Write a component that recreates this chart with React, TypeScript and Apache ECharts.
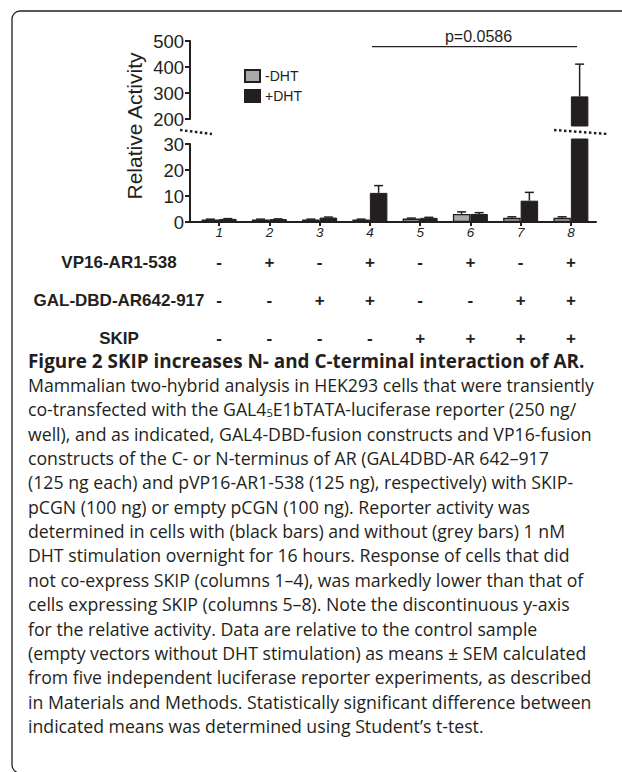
import React, { useEffect, useRef } from "react";
import * as echarts from "echarts";

const categories = ["1", "2", "3", "4", "5", "6", "7", "8"];
const minusDHT = [1.0, 1.0, 1.0, 1.0, 1.3, 3.1, 1.6, 1.6];
const minusDHTErr = [0.1, 0.1, 0.1, 0.1, 0.2, 0.8, 0.4, 0.4];
const plusDHT = [1.2, 1.1, 1.7, 11.2, 1.6, 3.1, 8.2, 287];
const plusDHTErr = [0.1, 0.1, 0.2, 2.8, 0.2, 0.5, 3.2, 124];
const upperRange = [200, 500];
const lowerRange = [0, 30];
const upperInterval = 100;
const lowerInterval = 10;
const vp16Row = ["-", "+", "-", "+", "-", "+", "-", "+"];
const galRow = ["-", "-", "+", "+", "-", "-", "+", "+"];
const skipRow = ["-", "-", "-", "-", "+", "+", "+", "+"];
const rowLabels = ["VP16-AR1-538", "GAL-DBD-AR642-917", "SKIP"];
const seriesNames = ["-DHT", "+DHT"];
const pValueText = "p=0.0586";
const yAxisTitle = "Relative Activity";
const captionTitle = "Figure 2 SKIP increases N- and C-terminal interaction of AR.";
const captionLines = [
  "Mammalian two-hybrid analysis in HEK293 cells that were transiently",
  "co-transfected with the GAL4{sub|5}E1bTATA-luciferase reporter (250 ng/",
  "well), and as indicated, GAL4-DBD-fusion constructs and VP16-fusion",
  "constructs of the C- or N-terminus of AR (GAL4DBD-AR 642–917",
  "(125 ng each) and pVP16-AR1-538 (125 ng), respectively) with SKIP-",
  "pCGN (100 ng) or empty pCGN (100 ng). Reporter activity was",
  "determined in cells with (black bars) and without (grey bars) 1 nM",
  "DHT stimulation overnight for 16 hours. Response of cells that did",
  "not co-express SKIP (columns 1–4), was markedly lower than that of",
  "cells expressing SKIP (columns 5–8). Note the discontinuous y-axis",
  "for the relative activity. Data are relative to the control sample",
  "(empty vectors without DHT stimulation) as means ± SEM calculated",
  "from five independent luciferase reporter experiments, as described",
  "in Materials and Methods. Statistically significant difference between",
  "indicated means was determined using Student’s t-test.",
];

const INK = "#231f20";
const GREY = "#a7a9ac";
const SANS = "Liberation Sans, Arial, Helvetica, sans-serif";
const CAPTION_FONT = "Open Sans, sans-serif";

// layout (pixels)
const BAR_LEFT = 194;
const BAR_WIDTH_TOTAL = 402;
const AXIS_LEFT = 190;
const AXIS_WIDTH = 406;
const UP_TOP = 41;
const UP_H = 78; // 500 -> 200
const LOW_TOP = 144;
const LOW_H = 78; // 30 -> 0
const UP_BAR_BOTTOM = 126;
const LOW_BAR_TOP = 139;
const BAR_W = 17.5;

function errorRenderer(offset: number) {
  return (params: any, api: any) => {
    const i = api.value(0);
    const v = api.value(1);
    const e = api.value(2);
    const base = api.coord([i, v]);
    const top = api.coord([i, v + e]);
    const x = base[0] + offset;
    const st = { stroke: INK, lineWidth: 1.5 };
    return {
      type: "group",
      children: [
        { type: "line", shape: { x1: x, y1: base[1], x2: x, y2: top[1] }, style: st },
        { type: "line", shape: { x1: x - 4.5, y1: top[1], x2: x + 4.5, y2: top[1] }, style: st },
      ],
    };
  };
}

export default function App() {
  const ref = useRef<HTMLDivElement>(null);
  useEffect(() => {
    if (!ref.current) return;
    const chart = echarts.init(ref.current, undefined, { renderer: "svg" });

    const upScale = UP_H / (upperRange[1] - upperRange[0]);
    const lowScale = LOW_H / (lowerRange[1] - lowerRange[0]);
    const upBarMin = upperRange[0] - (UP_BAR_BOTTOM - (UP_TOP + UP_H)) / upScale;
    const lowBarMax = lowerRange[1] + (LOW_TOP - LOW_BAR_TOP) / lowScale;

    const hiddenCat = (gridIndex: number) => ({
      type: "category",
      gridIndex,
      data: categories,
      show: false,
    });

    const rowAxis = (data: string[], offset: number) => ({
      type: "category",
      gridIndex: 1,
      data,
      position: "bottom",
      offset,
      axisLine: { show: false },
      axisTick: { show: false },
      axisLabel: {
        margin: 0,
        fontFamily: SANS,
        fontWeight: "bold",
        fontSize: 17,
        color: INK,
        interval: 0,
      },
    });

    const visibleY = (gridIndex: number, range: number[], interval: number) => ({
      type: "value",
      gridIndex,
      min: range[0],
      max: range[1],
      interval,
      axisLine: { show: true, lineStyle: { color: INK, width: 2 } },
      axisTick: { show: true, length: 5, lineStyle: { color: INK, width: 2 } },
      axisLabel: { fontFamily: SANS, fontSize: 18.5, color: INK, margin: 6 },
      splitLine: { show: false },
    });

    const barStyleGrey = { color: GREY, borderColor: INK, borderWidth: 1.3 };
    const barStyleBlack = { color: INK, borderColor: INK, borderWidth: 1 };

    const barSeries = (name: string, data: number[], idx: number, style: any) => ({
      type: "bar",
      name,
      xAxisIndex: idx,
      yAxisIndex: idx,
      data,
      barWidth: BAR_W,
      barGap: "0%",
      clip: true,
      itemStyle: style,
      emphasis: { disabled: true },
    });

    const errSeries = (vals: number[], errs: number[], idx: number, offset: number) => ({
      type: "custom",
      xAxisIndex: idx,
      yAxisIndex: idx,
      clip: true,
      data: categories.map((_, i) => [i, vals[i], errs[i]]),
      encode: { x: 0, y: 1 },
      renderItem: errorRenderer(offset),
      z: 3,
    });

    const captionGraphics: any[] = captionLines.map((t, i) => ({
      type: "text",
      x: 28,
      y: 385 + i * 24.35,
      style: {
        text: t,
        fontFamily: CAPTION_FONT,
        fontSize: 17.7,
        fill: INK,
        align: "left",
        verticalAlign: "middle",
        rich: {
          sub: { fontFamily: CAPTION_FONT, fontSize: 11, fill: INK, verticalAlign: "bottom", padding: [7, 0, 0, 0] },
        },
      },
    }));

    const option: any = {
      animation: false,
      backgroundColor: "#ffffff",
      grid: [
        { left: BAR_LEFT, width: BAR_WIDTH_TOTAL, top: UP_TOP, height: UP_BAR_BOTTOM - UP_TOP },
        { left: BAR_LEFT, width: BAR_WIDTH_TOTAL, top: LOW_BAR_TOP, height: LOW_TOP + LOW_H - LOW_BAR_TOP },
        { left: AXIS_LEFT, width: AXIS_WIDTH, top: UP_TOP, height: UP_H },
        { left: AXIS_LEFT, width: AXIS_WIDTH, top: LOW_TOP, height: LOW_H },
      ],
      xAxis: [
        hiddenCat(0),
        {
          type: "category",
          gridIndex: 1,
          data: categories,
          axisLine: { show: false },
          axisTick: { show: true, alignWithLabel: true, length: 4, lineStyle: { color: INK, width: 2 } },
          axisLabel: { fontFamily: SANS, fontStyle: "italic", fontSize: 13.5, color: INK, margin: 3 },
        },
        { type: "value", gridIndex: 2, show: false, min: 0, max: 1 },
        {
          type: "value",
          gridIndex: 3,
          min: 0,
          max: 1,
          axisLine: { show: true, onZero: false, lineStyle: { color: INK, width: 2 } },
          axisTick: { show: false },
          axisLabel: { show: false },
          splitLine: { show: false },
        },
        rowAxis(vp16Row, 31.5),
        rowAxis(galRow, 69.5),
        rowAxis(skipRow, 107.5),
      ],
      yAxis: [
        { type: "value", gridIndex: 0, min: upBarMin, max: upperRange[1], show: false },
        { type: "value", gridIndex: 1, min: lowerRange[0], max: lowBarMax, show: false },
        visibleY(2, upperRange, upperInterval),
        visibleY(3, lowerRange, lowerInterval),
      ],
      legend: {
        data: seriesNames,
        orient: "vertical",
        left: 239,
        top: 64,
        icon: "rect",
        itemWidth: 15,
        itemHeight: 12,
        itemGap: 6,
        textStyle: { fontFamily: SANS, fontSize: 14, color: INK, lineHeight: 14 },
      },
      series: [
        barSeries(seriesNames[0], minusDHT, 0, barStyleGrey),
        barSeries(seriesNames[1], plusDHT, 0, barStyleBlack),
        barSeries(seriesNames[0], minusDHT, 1, barStyleGrey),
        barSeries(seriesNames[1], plusDHT, 1, barStyleBlack),
        errSeries(minusDHT, minusDHTErr, 0, -BAR_W / 2),
        errSeries(plusDHT, plusDHTErr, 0, BAR_W / 2),
        errSeries(minusDHT, minusDHTErr, 1, -BAR_W / 2),
        errSeries(plusDHT, plusDHTErr, 1, BAR_W / 2),
      ],
      graphic: [
        {
          type: "rect",
          shape: { x: 12, y: 11, width: 700, height: 762, r: 8 },
          style: { fill: "none", stroke: INK, lineWidth: 1.3 },
          silent: true,
        },
        {
          type: "text",
          x: 134.7,
          y: 126,
          rotation: Math.PI / 2,
          style: {
            text: yAxisTitle,
            fontFamily: SANS,
            fontSize: 21,
            fill: INK,
            align: "center",
            verticalAlign: "middle",
          },
        },
        {
          type: "line",
          shape: { x1: 180, y1: 130, x2: 212, y2: 134 },
          style: { stroke: INK, lineWidth: 2.5, lineDash: [2.5, 2.5] },
        },
        {
          type: "line",
          shape: { x1: 554, y1: 130, x2: 608, y2: 134 },
          style: { stroke: INK, lineWidth: 2.5, lineDash: [2.5, 2.5] },
        },
        {
          type: "line",
          shape: { x1: 372, y1: 46.7, x2: 577, y2: 46.7 },
          style: { stroke: INK, lineWidth: 1.2 },
        },
        {
          type: "text",
          x: 478.5,
          y: 36,
          style: {
            text: pValueText,
            fontFamily: SANS,
            fontSize: 16,
            fill: INK,
            align: "center",
            verticalAlign: "middle",
          },
        },
        ...rowLabels.map((t, i) => ({
          type: "text",
          x: 119,
          y: 262 + i * 38,
          style: {
            text: t,
            fontFamily: SANS,
            fontWeight: "bold",
            fontSize: 17,
            fill: INK,
            align: "center",
            verticalAlign: "middle",
          },
        })),
        {
          type: "text",
          x: 28,
          y: 361,
          style: {
            text: captionTitle,
            fontFamily: CAPTION_FONT,
            fontWeight: "bold",
            fontSize: 18.9,
            fill: INK,
            align: "left",
            verticalAlign: "middle",
          },
        },
        ...captionGraphics,
      ],
    };
    chart.setOption(option);
    return () => chart.dispose();
  }, []);

  return (
    <div
      ref={ref}
      style={{ position: "fixed", left: 0, top: 0, width: 622, height: 772, background: "#fff" }}
    />
  );
}
